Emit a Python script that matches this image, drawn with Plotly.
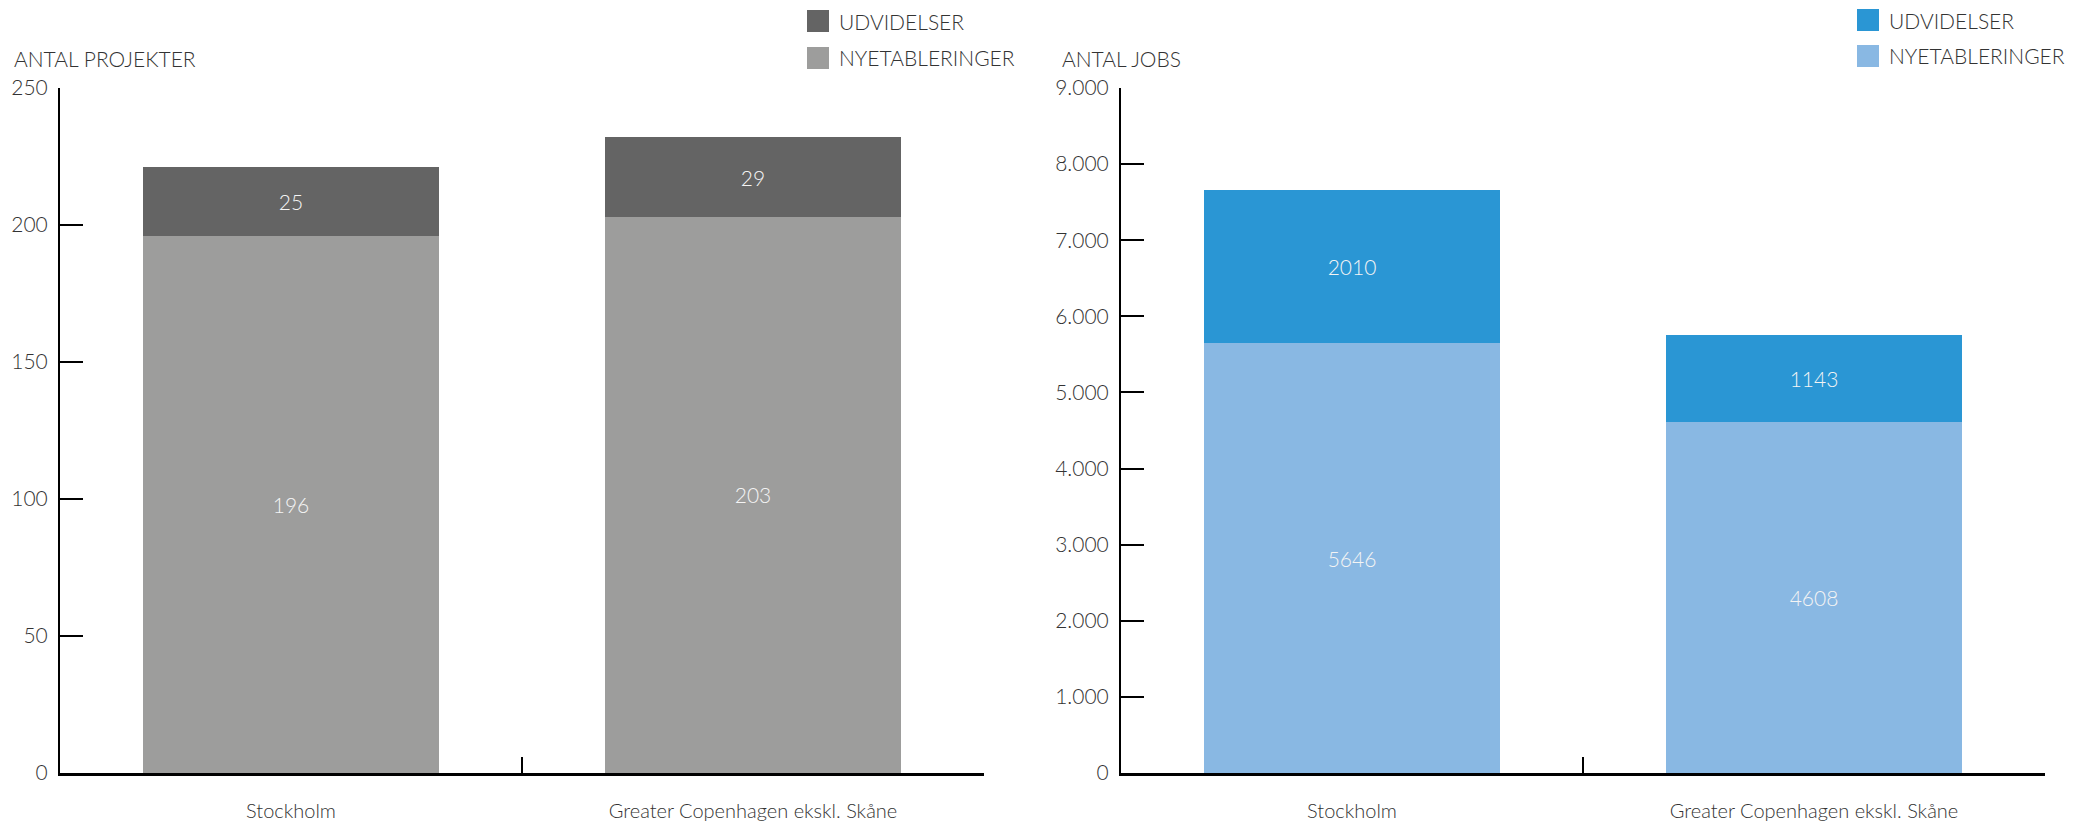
import plotly.graph_objects as go
from plotly.subplots import make_subplots

# page body has an 8px margin: the figure is drawn 8px lower/right than the window origin
OFF = 8
W, H = 2087 - OFF, 823 - OFF

categories = ["Stockholm", "Greater Copenhagen ekskl. Skåne"]
proj_new = [196, 203]
proj_exp = [25, 29]
jobs_new = [5646, 4608]
jobs_exp = [2010, 1143]
series_names = ["UDVIDELSER", "NYETABLERINGER"]

grey_dark, grey_light = "#646464", "#9d9d9c"
blue_dark, blue_light = "#2a96d4", "#89b8e3"
FONT = "Lato"
TXT = "#333333"
WEIGHT = 300
FS = 21

fig = make_subplots(rows=1, cols=2)

def px_x(p):
    return (p - OFF) / W

def px_y(p):
    return 1 - (p - OFF) / H

lbl_font = dict(family=FONT, size=FS, color="#f4f4f4", weight=WEIGHT)
for vals, name, col, c in [(proj_new, series_names[1], grey_light, 1),
                           (proj_exp, series_names[0], grey_dark, 1),
                           (jobs_new, series_names[1], blue_light, 2),
                           (jobs_exp, series_names[0], blue_dark, 2)]:
    fig.add_trace(go.Bar(x=categories, y=vals, name=name, marker_color=col,
                         text=[str(v) for v in vals], textposition="inside",
                         insidetextanchor="middle", textfont=lbl_font, width=0.64,
                         showlegend=False, marker_line_width=0), row=1, col=c)

tickfont = dict(family=FONT, size=FS, color=TXT, weight=WEIGHT)
xtickfont = dict(family=FONT, size=20, color=TXT, weight=WEIGHT)
xcommon = dict(showline=True, linecolor="black", linewidth=2.5, ticks="inside", ticklen=16,
               tickwidth=1.5, tickcolor="black", tickson="boundaries", showgrid=False,
               tickfont=xtickfont, range=[-0.5, 1.5], ticklabelstandoff=18, zeroline=False,
               automargin=False, fixedrange=True)
ycommon = dict(showline=True, linecolor="black", linewidth=2, ticks="inside", ticklen=23,
               tickwidth=2, tickcolor="black", showgrid=False, zeroline=False,
               tickfont=tickfont, ticklabelstandoff=6, automargin=False, fixedrange=True)

fig.update_xaxes(**xcommon, domain=[px_x(60), px_x(984)], row=1, col=1)
fig.update_xaxes(**xcommon, domain=[px_x(1121), px_x(2045)], row=1, col=2)
fig.update_yaxes(**ycommon, range=[0, 250], dtick=50, domain=[px_y(773), px_y(88)], row=1, col=1)
fig.update_yaxes(**ycommon, range=[0, 9000], dtick=1000, tickformat=",d",
                 domain=[px_y(773), px_y(88)], row=1, col=2)

annotations = [
    dict(text="ANTAL PROJEKTER", x=px_x(12), y=px_y(59), xanchor="left", yanchor="middle"),
    dict(text="ANTAL JOBS", x=px_x(1060), y=px_y(59), xanchor="left", yanchor="middle"),
]
shapes = []
legends = [
    (807, [21, 58], [grey_dark, grey_light]),
    (1857, [20, 56], [blue_dark, blue_light]),
]
for x0, ys, cols in legends:
    for yc, col, name in zip(ys, cols, series_names):
        shapes.append(dict(type="rect", xref="paper", yref="paper",
                           x0=px_x(x0), x1=px_x(x0 + 22), y0=px_y(yc + 11), y1=px_y(yc - 11),
                           fillcolor=col, line=dict(width=0)))
        annotations.append(dict(text=name, x=px_x(x0 + 30), y=px_y(yc), xanchor="left", yanchor="middle"))

for a in annotations:
    a.update(xref="paper", yref="paper", showarrow=False,
             font=dict(family=FONT, size=FS, color=TXT, weight=WEIGHT))

fig.update_layout(
    width=W, height=H, barmode="stack", separators=",.",
    margin=dict(l=0, r=0, t=0, b=0, autoexpand=False),
    paper_bgcolor="white", plot_bgcolor="white",
    font=dict(family=FONT, size=FS, color=TXT, weight=WEIGHT),
    annotations=annotations, shapes=shapes, showlegend=False,
)

fig.write_html("out.html")
